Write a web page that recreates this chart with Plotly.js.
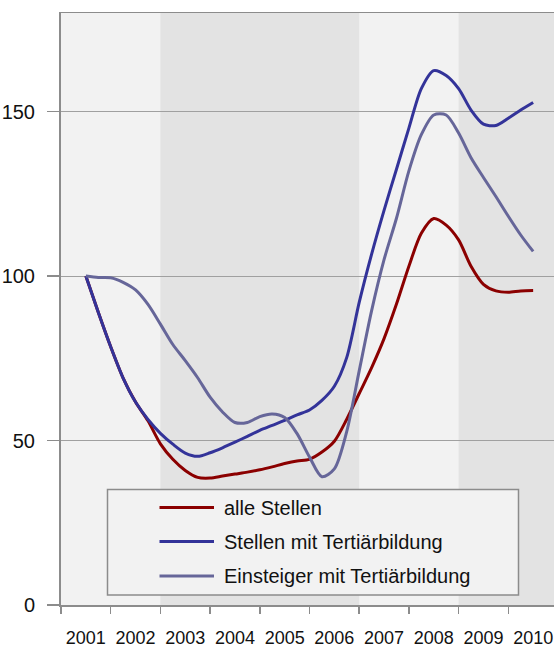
<!DOCTYPE html>
<html>
<head>
<meta charset="utf-8">
<script src="https://cdn.plot.ly/plotly-3.0.1.min.js"></script>
<style>
html,body{margin:0;padding:0;overflow:hidden;background:#fff;}
#chart{width:568px;height:648px;}
</style>
</head>
<body>
<div id="chart"></div>
<script>
// Quarterly positions (decimal years)
const quarters = [2001.5,2001.75,2002,2002.25,2002.5,2002.75,2003,2003.25,2003.5,2003.75,
  2004,2004.25,2004.5,2004.75,2005,2005.25,2005.5,2005.75,2006,2006.25,2006.5,2006.75,
  2007,2007.25,2007.5,2007.75,2008,2008.25,2008.5,2008.75,2009,2009.25,2009.5,2009.75,
  2010,2010.25,2010.5];

const seriesNames = ["alle Stellen", "Stellen mit Tertiärbildung", "Einsteiger mit Tertiärbildung"];
const seriesColors = ["#8b0000", "#333399", "#666699"];

const alleStellen = [100, 89.0, 78.5, 69.0, 61.7, 56.0, 49.0, 44.3, 40.9, 38.8, 38.6, 39.2, 39.8,
  40.4, 41.1, 42.0, 43.0, 43.8, 44.3, 46.5, 49.8, 56.5, 64.3, 72.2, 81.0, 91.5, 103.0, 113.0,
  117.5, 115.5, 111.0, 103.0, 97.5, 95.5, 95.1, 95.5, 95.6];
const stellenTertiaer = [100, 89.0, 78.5, 69.0, 61.7, 56.4, 52.2, 48.9, 46.2, 45.2, 46.3, 47.8,
  49.5, 51.3, 53.1, 54.6, 56.1, 57.8, 59.3, 62.2, 66.5, 75.3, 92.0, 106.7, 120.0, 132.5, 145.0,
  157.0, 162.5, 161.0, 157.0, 150.5, 146.2, 145.8, 148.0, 150.5, 152.8];
const einsteigerTertiaer = [100, 99.6, 99.5, 98.1, 95.8, 91.4, 85.4, 79.2, 74.3, 69.1, 63.2, 58.7,
  55.5, 55.5, 57.3, 58.1, 57.0, 52.1, 45.0, 39.0, 41.4, 52.8, 71.2, 89.5, 105.0, 117.6, 132.0,
  143.0, 149.0, 149.0, 143.5, 136.0, 130.0, 124.2, 118.2, 112.5, 107.5];

const yearLabels = ["2001","2002","2003","2004","2005","2006","2007","2008","2009","2010"];
const labelPositions = [2001.5,2002.5,2003.5,2004.5,2005.5,2006.5,2007.5,2008.5,2009.5,2010.5];
const yTicks = [0, 50, 100, 150];
const shadedPeriods = [[2003, 2007], [2009, 2011]];

const FONT = "Liberation Sans, Arial, sans-serif";

// plot geometry (px)
const L = 61, T = 13, W = 497, H = 592, TOTW = 568, TOTH = 648;
const P = x => (x - L) / W;
const Q = y => (T + H - y) / H;

const allSeries = [alleStellen, stellenTertiaer, einsteigerTertiaer];
const traces = allSeries.map((vals, i) => ({
  type: "scatter", mode: "lines", x: quarters, y: vals, name: seriesNames[i],
  line: {color: seriesColors[i], width: 3, shape: "spline", smoothing: 0.8},
  showlegend: false, hoverinfo: "skip"
}));

const shapes = shadedPeriods.map(p => ({
  type: "rect", xref: "x", yref: "paper", x0: p[0], x1: p[1], y0: 0, y1: 1,
  fillcolor: "#e3e3e3", line: {width: 0}, layer: "below"
}));

// custom legend box
shapes.push({type: "rect", xref: "paper", yref: "paper",
  x0: P(107.5), x1: P(518.5), y0: Q(595), y1: Q(489.5),
  fillcolor: "#f2f2f2", line: {color: "#8c8c8c", width: 1.5}, layer: "above"});
const legendRows = [507.5, 541.5, 576];
const annotations = [];
seriesNames.forEach((n, i) => {
  shapes.push({type: "line", xref: "paper", yref: "paper",
    x0: P(159.5), x1: P(214), y0: Q(legendRows[i]), y1: Q(legendRows[i]),
    line: {color: seriesColors[i], width: 3}, layer: "above"});
  annotations.push({xref: "paper", yref: "paper", x: P(222), y: Q(legendRows[i]),
    xanchor: "left", yanchor: "middle", showarrow: false, text: n,
    font: {family: FONT, size: 20, color: "#111"}});
});

const layout = {
  width: TOTW, height: TOTH,
  margin: {l: L, r: TOTW - L - W, t: T, b: TOTH - T - H, pad: 0},
  paper_bgcolor: "#ffffff", plot_bgcolor: "#f2f2f2",
  showlegend: false,
  xaxis: {
    range: [2001, 2011], fixedrange: true,
    tickvals: labelPositions, ticktext: yearLabels, ticks: "",
    ticklabelstandoff: 16,
    minor: {tick0: 2001, dtick: 1, ticks: "outside", ticklen: 7, tickcolor: "#8c8c8c", tickwidth: 1.5, showgrid: false},
    showgrid: false, zeroline: false,
    showline: true, linecolor: "#8c8c8c", linewidth: 1.5, mirror: true,
    tickfont: {family: FONT, size: 18, color: "#111"}
  },
  yaxis: {
    range: [0, 180], fixedrange: true,
    tickvals: yTicks, ticks: "outside", ticklen: 12, tickcolor: "#8c8c8c", tickwidth: 1.5,
    ticklabelstandoff: 8,
    showgrid: true, gridcolor: "#a0a0a0", gridwidth: 1,
    zeroline: false, showline: true, linecolor: "#8c8c8c", linewidth: 2, mirror: true,
    tickfont: {family: FONT, size: 20, color: "#111"}
  },
  shapes: shapes,
  annotations: annotations
};

Plotly.newPlot("chart", traces, layout, {displayModeBar: false, staticPlot: true});
</script>
</body>
</html>
